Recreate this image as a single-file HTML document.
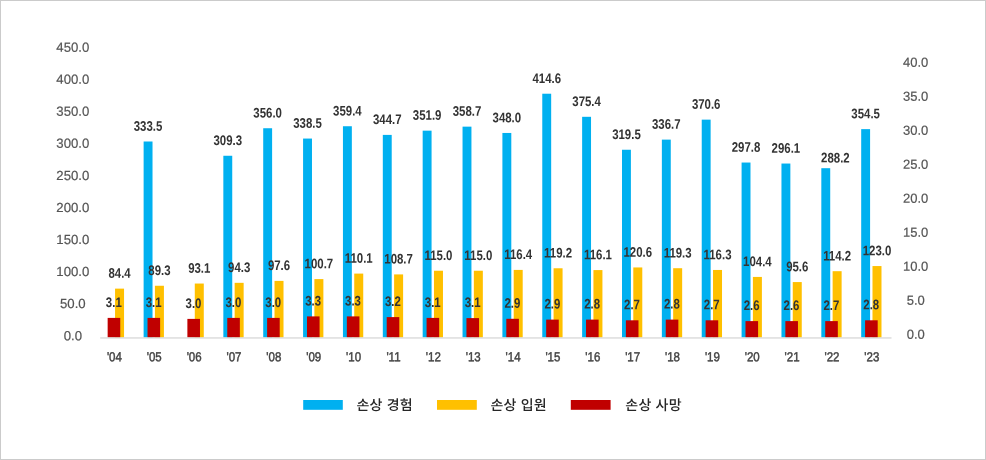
<!DOCTYPE html>
<html lang="ko"><head><meta charset="utf-8"><title>chart</title>
<style>
html,body{margin:0;padding:0;background:#fff}
body{width:986px;height:460px;position:relative;overflow:hidden}
svg{position:absolute;left:0;top:0;display:block}
text{font-family:"Liberation Sans","Noto Sans CJK KR",sans-serif;text-rendering:geometricPrecision}
.bl{fill:#00b0f0}.ye{fill:#ffc000}.re{fill:#c00000}
.v{font-size:13.8px;font-weight:bold;fill:#333;text-anchor:middle}
.x{font-size:13px;fill:#444;text-anchor:middle;stroke:#444;stroke-width:0.45px}
.a{font-size:13.2px;fill:#555;text-anchor:middle;stroke:#555;stroke-width:0.2px}
.r{font-size:13px}
.lg{font-size:14px;fill:#262626;font-weight:500;letter-spacing:0.2px;font-family:"Liberation Sans","Noto Sans CJK KR",sans-serif}
</style></head><body>
<svg width="986" height="460" viewBox="0 0 986 460">
<rect x="0.5" y="0.5" width="985" height="459" fill="#fff" stroke="#cbcbcb" stroke-width="1"/>
<rect class="ye" x="115.05" y="288.63" width="9.00" height="48.77"/>
<rect class="bl" x="143.62" y="141.50" width="8.90" height="195.90"/>
<rect class="ye" x="154.92" y="285.76" width="9.00" height="51.64"/>
<rect class="ye" x="194.78" y="283.54" width="9.00" height="53.86"/>
<rect class="bl" x="223.34" y="155.76" width="8.90" height="181.64"/>
<rect class="ye" x="234.65" y="282.83" width="9.00" height="54.57"/>
<rect class="bl" x="263.21" y="128.24" width="8.90" height="209.16"/>
<rect class="ye" x="274.51" y="280.90" width="9.00" height="56.50"/>
<rect class="bl" x="303.08" y="138.56" width="8.90" height="198.84"/>
<rect class="ye" x="314.38" y="279.09" width="9.00" height="58.31"/>
<rect class="bl" x="342.94" y="126.24" width="8.90" height="211.16"/>
<rect class="ye" x="354.24" y="273.59" width="9.00" height="63.81"/>
<rect class="bl" x="382.81" y="134.90" width="8.90" height="202.50"/>
<rect class="ye" x="394.11" y="274.41" width="9.00" height="62.99"/>
<rect class="bl" x="422.67" y="130.66" width="8.90" height="206.74"/>
<rect class="ye" x="433.97" y="270.73" width="9.00" height="66.67"/>
<rect class="bl" x="462.54" y="126.65" width="8.90" height="210.75"/>
<rect class="ye" x="473.84" y="270.73" width="9.00" height="66.67"/>
<rect class="bl" x="502.40" y="132.96" width="8.90" height="204.44"/>
<rect class="ye" x="513.70" y="269.91" width="9.00" height="67.49"/>
<rect class="bl" x="542.27" y="93.72" width="8.90" height="243.68"/>
<rect class="ye" x="553.57" y="268.27" width="9.00" height="69.13"/>
<rect class="bl" x="582.13" y="116.81" width="8.90" height="220.59"/>
<rect class="ye" x="593.43" y="270.08" width="9.00" height="67.32"/>
<rect class="bl" x="622.00" y="149.75" width="8.90" height="187.65"/>
<rect class="ye" x="633.29" y="267.45" width="9.00" height="69.95"/>
<rect class="bl" x="661.86" y="139.62" width="8.90" height="197.78"/>
<rect class="ye" x="673.16" y="268.21" width="9.00" height="69.19"/>
<rect class="bl" x="701.73" y="119.64" width="8.90" height="217.76"/>
<rect class="ye" x="713.02" y="269.96" width="9.00" height="67.44"/>
<rect class="bl" x="741.59" y="162.54" width="8.90" height="174.86"/>
<rect class="ye" x="752.89" y="276.93" width="9.00" height="60.47"/>
<rect class="bl" x="781.46" y="163.54" width="8.90" height="173.86"/>
<rect class="ye" x="792.75" y="282.07" width="9.00" height="55.33"/>
<rect class="bl" x="821.32" y="168.19" width="8.90" height="169.21"/>
<rect class="ye" x="832.62" y="271.19" width="9.00" height="66.21"/>
<rect class="bl" x="861.19" y="129.13" width="8.90" height="208.27"/>
<rect class="ye" x="872.49" y="266.05" width="9.00" height="71.35"/>
<rect class="re" x="107.65" y="317.90" width="12.60" height="19.50"/>
<rect class="re" x="147.52" y="317.90" width="12.60" height="19.50"/>
<rect class="re" x="187.38" y="318.90" width="12.60" height="18.50"/>
<rect class="re" x="227.25" y="317.90" width="12.60" height="19.50"/>
<rect class="re" x="267.11" y="317.90" width="12.60" height="19.50"/>
<rect class="re" x="306.98" y="316.40" width="12.60" height="21.00"/>
<rect class="re" x="346.84" y="316.40" width="12.60" height="21.00"/>
<rect class="re" x="386.70" y="317.10" width="12.60" height="20.30"/>
<rect class="re" x="426.57" y="317.90" width="12.60" height="19.50"/>
<rect class="re" x="466.44" y="318.10" width="12.60" height="19.30"/>
<rect class="re" x="506.30" y="318.80" width="12.60" height="18.60"/>
<rect class="re" x="546.17" y="319.60" width="12.60" height="17.80"/>
<rect class="re" x="586.03" y="319.60" width="12.60" height="17.80"/>
<rect class="re" x="625.89" y="320.30" width="12.60" height="17.10"/>
<rect class="re" x="665.76" y="319.60" width="12.60" height="17.80"/>
<rect class="re" x="705.62" y="320.30" width="12.60" height="17.10"/>
<rect class="re" x="745.49" y="321.10" width="12.60" height="16.30"/>
<rect class="re" x="785.36" y="321.10" width="12.60" height="16.30"/>
<rect class="re" x="825.22" y="321.10" width="12.60" height="16.30"/>
<rect class="re" x="865.09" y="320.30" width="12.60" height="17.10"/>
<rect x="100.2" y="337.35" width="791.3" height="1.2" fill="#d4d4d4"/>
<text class="v" transform="translate(119.55 277.83) scale(0.828 1) rotate(0.05)">84.4</text>
<text class="v" transform="translate(113.80 306.90) scale(0.828 1) rotate(0.05)">3.1</text>
<text class="x" transform="translate(114.40 361.3) scale(0.885 1) rotate(0.05)">'04</text>
<text class="v" transform="translate(148.06 130.70) scale(0.828 1) rotate(0.05)">333.5</text>
<text class="v" transform="translate(159.42 274.96) scale(0.828 1) rotate(0.05)">89.3</text>
<text class="v" transform="translate(153.67 306.90) scale(0.828 1) rotate(0.05)">3.1</text>
<text class="x" transform="translate(154.27 361.3) scale(0.885 1) rotate(0.05)">'05</text>
<text class="v" transform="translate(199.28 272.74) scale(0.828 1) rotate(0.05)">93.1</text>
<text class="v" transform="translate(193.53 307.90) scale(0.828 1) rotate(0.05)">3.0</text>
<text class="x" transform="translate(194.13 361.3) scale(0.885 1) rotate(0.05)">'06</text>
<text class="v" transform="translate(227.79 144.96) scale(0.828 1) rotate(0.05)">309.3</text>
<text class="v" transform="translate(239.15 272.03) scale(0.828 1) rotate(0.05)">94.3</text>
<text class="v" transform="translate(233.40 306.90) scale(0.828 1) rotate(0.05)">3.0</text>
<text class="x" transform="translate(234.00 361.3) scale(0.885 1) rotate(0.05)">'07</text>
<text class="v" transform="translate(267.66 117.44) scale(0.828 1) rotate(0.05)">356.0</text>
<text class="v" transform="translate(279.01 270.10) scale(0.828 1) rotate(0.05)">97.6</text>
<text class="v" transform="translate(273.26 306.90) scale(0.828 1) rotate(0.05)">3.0</text>
<text class="x" transform="translate(273.86 361.3) scale(0.885 1) rotate(0.05)">'08</text>
<text class="v" transform="translate(307.53 127.76) scale(0.828 1) rotate(0.05)">338.5</text>
<text class="v" transform="translate(318.88 268.29) scale(0.828 1) rotate(0.05)">100.7</text>
<text class="v" transform="translate(313.13 305.40) scale(0.828 1) rotate(0.05)">3.3</text>
<text class="x" transform="translate(313.73 361.3) scale(0.885 1) rotate(0.05)">'09</text>
<text class="v" transform="translate(347.39 115.44) scale(0.828 1) rotate(0.05)">359.4</text>
<text class="v" transform="translate(358.74 262.79) scale(0.828 1) rotate(0.05)">110.1</text>
<text class="v" transform="translate(352.99 305.40) scale(0.828 1) rotate(0.05)">3.3</text>
<text class="x" transform="translate(353.59 361.3) scale(0.885 1) rotate(0.05)">'10</text>
<text class="v" transform="translate(387.25 124.10) scale(0.828 1) rotate(0.05)">344.7</text>
<text class="v" transform="translate(398.61 263.61) scale(0.828 1) rotate(0.05)">108.7</text>
<text class="v" transform="translate(392.86 306.10) scale(0.828 1) rotate(0.05)">3.2</text>
<text class="x" transform="translate(393.45 361.3) scale(0.885 1) rotate(0.05)">'11</text>
<text class="v" transform="translate(427.12 119.86) scale(0.828 1) rotate(0.05)">351.9</text>
<text class="v" transform="translate(438.47 259.93) scale(0.828 1) rotate(0.05)">115.0</text>
<text class="v" transform="translate(432.72 306.90) scale(0.828 1) rotate(0.05)">3.1</text>
<text class="x" transform="translate(433.32 361.3) scale(0.885 1) rotate(0.05)">'12</text>
<text class="v" transform="translate(466.99 115.85) scale(0.828 1) rotate(0.05)">358.7</text>
<text class="v" transform="translate(478.34 259.93) scale(0.828 1) rotate(0.05)">115.0</text>
<text class="v" transform="translate(472.59 307.10) scale(0.828 1) rotate(0.05)">3.1</text>
<text class="x" transform="translate(473.19 361.3) scale(0.885 1) rotate(0.05)">'13</text>
<text class="v" transform="translate(506.85 122.16) scale(0.828 1) rotate(0.05)">348.0</text>
<text class="v" transform="translate(518.20 259.11) scale(0.828 1) rotate(0.05)">116.4</text>
<text class="v" transform="translate(512.45 307.80) scale(0.828 1) rotate(0.05)">2.9</text>
<text class="x" transform="translate(513.05 361.3) scale(0.885 1) rotate(0.05)">'14</text>
<text class="v" transform="translate(546.72 82.92) scale(0.828 1) rotate(0.05)">414.6</text>
<text class="v" transform="translate(558.07 257.47) scale(0.828 1) rotate(0.05)">119.2</text>
<text class="v" transform="translate(552.32 308.60) scale(0.828 1) rotate(0.05)">2.9</text>
<text class="x" transform="translate(552.92 361.3) scale(0.885 1) rotate(0.05)">'15</text>
<text class="v" transform="translate(586.58 106.01) scale(0.828 1) rotate(0.05)">375.4</text>
<text class="v" transform="translate(597.93 259.28) scale(0.828 1) rotate(0.05)">116.1</text>
<text class="v" transform="translate(592.18 308.60) scale(0.828 1) rotate(0.05)">2.8</text>
<text class="x" transform="translate(592.78 361.3) scale(0.885 1) rotate(0.05)">'16</text>
<text class="v" transform="translate(626.45 138.95) scale(0.828 1) rotate(0.05)">319.5</text>
<text class="v" transform="translate(637.79 256.65) scale(0.828 1) rotate(0.05)">120.6</text>
<text class="v" transform="translate(632.04 309.30) scale(0.828 1) rotate(0.05)">2.7</text>
<text class="x" transform="translate(632.64 361.3) scale(0.885 1) rotate(0.05)">'17</text>
<text class="v" transform="translate(666.31 128.82) scale(0.828 1) rotate(0.05)">336.7</text>
<text class="v" transform="translate(677.66 257.41) scale(0.828 1) rotate(0.05)">119.3</text>
<text class="v" transform="translate(671.91 308.60) scale(0.828 1) rotate(0.05)">2.8</text>
<text class="x" transform="translate(672.51 361.3) scale(0.885 1) rotate(0.05)">'18</text>
<text class="v" transform="translate(706.18 108.84) scale(0.828 1) rotate(0.05)">370.6</text>
<text class="v" transform="translate(717.52 259.16) scale(0.828 1) rotate(0.05)">116.3</text>
<text class="v" transform="translate(711.77 309.30) scale(0.828 1) rotate(0.05)">2.7</text>
<text class="x" transform="translate(712.38 361.3) scale(0.885 1) rotate(0.05)">'19</text>
<text class="v" transform="translate(746.04 151.74) scale(0.828 1) rotate(0.05)">297.8</text>
<text class="v" transform="translate(757.39 266.13) scale(0.828 1) rotate(0.05)">104.4</text>
<text class="v" transform="translate(751.64 310.10) scale(0.828 1) rotate(0.05)">2.6</text>
<text class="x" transform="translate(752.24 361.3) scale(0.885 1) rotate(0.05)">'20</text>
<text class="v" transform="translate(785.91 152.74) scale(0.828 1) rotate(0.05)">296.1</text>
<text class="v" transform="translate(797.25 271.27) scale(0.828 1) rotate(0.05)">95.6</text>
<text class="v" transform="translate(791.50 310.10) scale(0.828 1) rotate(0.05)">2.6</text>
<text class="x" transform="translate(792.11 361.3) scale(0.885 1) rotate(0.05)">'21</text>
<text class="v" transform="translate(835.37 162.39) scale(0.828 1) rotate(0.05)">288.2</text>
<text class="v" transform="translate(837.12 260.39) scale(0.828 1) rotate(0.05)">114.2</text>
<text class="v" transform="translate(831.37 310.10) scale(0.828 1) rotate(0.05)">2.7</text>
<text class="x" transform="translate(831.97 361.3) scale(0.885 1) rotate(0.05)">'22</text>
<text class="v" transform="translate(865.64 118.33) scale(0.828 1) rotate(0.05)">354.5</text>
<text class="v" transform="translate(876.99 255.25) scale(0.828 1) rotate(0.05)">123.0</text>
<text class="v" transform="translate(871.24 309.30) scale(0.828 1) rotate(0.05)">2.8</text>
<text class="x" transform="translate(871.84 361.3) scale(0.885 1) rotate(0.05)">'23</text>
<text class="a" transform="translate(72.8 51.70) rotate(0.05)">450.0</text>
<text class="a" transform="translate(72.8 83.75) rotate(0.05)">400.0</text>
<text class="a" transform="translate(72.8 115.80) rotate(0.05)">350.0</text>
<text class="a" transform="translate(72.8 147.85) rotate(0.05)">300.0</text>
<text class="a" transform="translate(72.8 179.90) rotate(0.05)">250.0</text>
<text class="a" transform="translate(72.8 211.95) rotate(0.05)">200.0</text>
<text class="a" transform="translate(72.8 244.00) rotate(0.05)">150.0</text>
<text class="a" transform="translate(72.8 276.05) rotate(0.05)">100.0</text>
<text class="a" transform="translate(72.8 308.10) rotate(0.05)">50.0</text>
<text class="a" transform="translate(72.8 340.15) rotate(0.05)">0.0</text>
<text class="a r" transform="translate(915.7 66.80) rotate(0.05)">40.0</text>
<text class="a r" transform="translate(915.7 100.80) rotate(0.05)">35.0</text>
<text class="a r" transform="translate(915.7 134.80) rotate(0.05)">30.0</text>
<text class="a r" transform="translate(915.7 168.80) rotate(0.05)">25.0</text>
<text class="a r" transform="translate(915.7 202.80) rotate(0.05)">20.0</text>
<text class="a r" transform="translate(915.7 236.80) rotate(0.05)">15.0</text>
<text class="a r" transform="translate(915.7 270.80) rotate(0.05)">10.0</text>
<text class="a r" transform="translate(915.7 304.80) rotate(0.05)">5.0</text>
<text class="a r" transform="translate(915.7 338.80) rotate(0.05)">0.0</text>
<rect class="bl" x="303.2" y="400" width="39.6" height="9.8"/><text class="lg" transform="translate(356.5 409.95) rotate(0.05)">손상 경험</text>
<rect class="ye" x="437" y="400" width="39.8" height="9.8"/><text class="lg" transform="translate(490.4 409.95) rotate(0.05)">손상 입원</text>
<rect class="re" x="570.8" y="400" width="39.8" height="9.8"/><text class="lg" transform="translate(625.3 409.95) rotate(0.05)">손상 사망</text>
</svg>
</body></html>
